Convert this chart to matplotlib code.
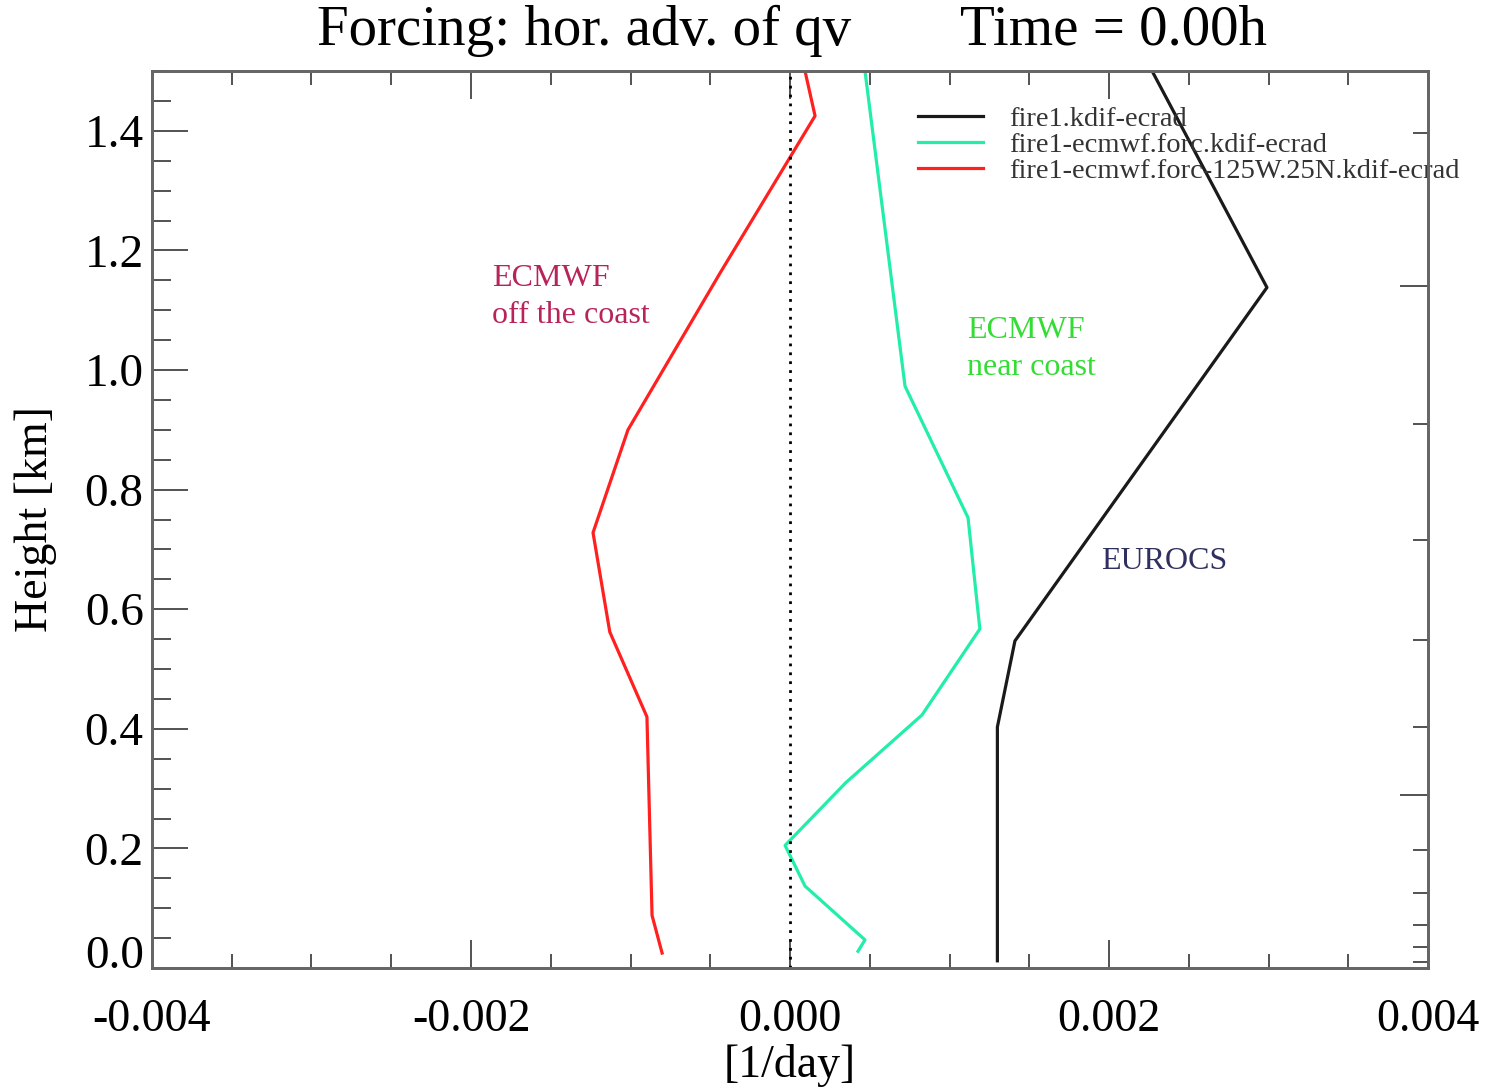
import matplotlib
matplotlib.use("Agg")
import matplotlib.pyplot as plt
from matplotlib.ticker import MultipleLocator

plt.rcParams['font.family'] = ['Liberation Serif', 'DejaVu Serif']

# profiles: tendency [1/day] vs height [km]
eurocs_x = [0.00227, 0.00299, 0.00141, 0.00130, 0.00130]
eurocs_z = [1.50, 1.138, 0.547, 0.403, 0.012]

near_x = [0.00047, 0.000721, 0.001116, 0.00119, 0.000827, 0.00035, -0.000031, 0.000094, 0.00047, 0.000426]
near_z = [1.50, 0.973, 0.753, 0.567, 0.423, 0.31, 0.205, 0.137, 0.047, 0.028]

off_x = [0.000094, 0.000157, -0.000439, -0.001016, -0.001235, -0.00113, -0.000897, -0.000865, -0.000802]
off_z = [1.50, 1.425, 1.162, 0.90, 0.728, 0.562, 0.42, 0.088, 0.025]

labels = ["fire1.kdif-ecrad", "fire1-ecmwf.forc.kdif-ecrad", "fire1-ecmwf.forc-125W.25N.kdif-ecrad"]
colors = ["#1a1a1a", "#22eeaa", "#ff2020"]

x_ticks = [-0.004, -0.002, 0.0, 0.002, 0.004]
x_ticklabels = ["-0.004", "-0.002", "0.000", "0.002", "0.004"]
y_ticks = [0.0, 0.2, 0.4, 0.6, 0.8, 1.0, 1.2, 1.4]
y_ticklabels = ["0.0", "0.2", "0.4", "0.6", "0.8", "1.0", "1.2", "1.4"]

# unlabeled right-hand axis tick positions (height units)
right_major = [1.14, 0.289]
right_minor = [1.397, 0.91, 0.715, 0.548, 0.403, 0.197, 0.126, 0.072, 0.035, 0.01]

fig = plt.figure(figsize=(14.93, 10.88), dpi=100)
ax = fig.add_axes([0.1018, 0.1103, 0.8547, 0.8244])

ax.plot(eurocs_x, eurocs_z, color=colors[0], lw=2.3, label=labels[0])
ax.plot(near_x, near_z, color=colors[1], lw=2.3, label=labels[1])
ax.plot(off_x, off_z, color=colors[2], lw=2.3, label=labels[2])
ax.axvline(0.0, color="black", lw=2.0, linestyle=(0, (1, 2.2)))

ax.set_xlim(-0.004, 0.004)
ax.set_ylim(0.0, 1.5)
ax.set_xticks(x_ticks)
ax.set_xticklabels(x_ticklabels)
ax.set_yticks(y_ticks)
ax.set_yticklabels(y_ticklabels)
ax.xaxis.set_minor_locator(MultipleLocator(0.0005))
ax.yaxis.set_minor_locator(MultipleLocator(0.05))

ax.tick_params(axis="x", which="major", direction="in", length=20, width=1.3, color="#444444",
               top=True, labelsize=33, pad=22)
ax.tick_params(axis="x", which="minor", direction="in", length=10, width=1.3, color="#444444", top=True)
ax.tick_params(axis="y", which="major", direction="in", length=26, width=1.3, color="#444444",
               right=False, labelsize=34, pad=6)
ax.tick_params(axis="y", which="minor", direction="in", length=14, width=1.3, color="#444444", right=False)
# bottom y label sits just above the axis, as in the original
ax.yaxis.get_major_ticks()[0].label1.set_verticalalignment("baseline")

# right axis with its own unlabeled ticks
ax2 = ax.twinx()
ax2.set_ylim(0.0, 1.5)
ax2.set_yticks(right_major)
ax2.set_yticks(right_minor, minor=True)
ax2.tick_params(axis="y", which="major", direction="in", length=20, width=1.3, color="#444444", labelright=False)
ax2.tick_params(axis="y", which="minor", direction="in", length=11, width=1.3, color="#444444", labelright=False)

for a in (ax, ax2):
    for s in a.spines.values():
        s.set_color("#666666")
        s.set_linewidth(2.0)

ax.set_ylabel("Height [km]", fontsize=33, labelpad=20)
ax.set_xlabel("[1/day]", fontsize=33, labelpad=2)

ax.text(-0.00187, 1.122, "ECMWF\noff the coast", color="#b8245a", fontsize=23,
        va="center", ha="left", linespacing=1.37)
ax.text(0.00111, 1.035, "ECMWF\nnear coast", color="#33dd33", fontsize=23,
        va="center", ha="left", linespacing=1.37)
ax.text(0.00195, 0.68, "EUROCS", color="#303060", fontsize=23, va="center", ha="left")

leg = ax.legend(loc="upper left", bbox_to_anchor=(0.600, 0.961), frameon=False, fontsize=20.5,
                handlelength=2.3, handletextpad=0.9, labelspacing=0.0, borderpad=0, borderaxespad=0)
for t in leg.get_texts():
    t.set_color("#333333")

fig.text(0.3915, 0.972, "Forcing: hor. adv. of qv", fontsize=41, ha="center", va="center")
fig.text(0.746, 0.972, "Time = 0.00h", fontsize=41, ha="center", va="center")

fig.savefig("out.png", dpi=100)
